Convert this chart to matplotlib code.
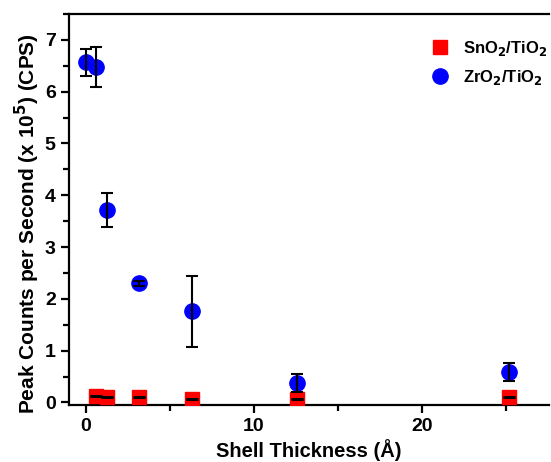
import matplotlib.pyplot as plt
from matplotlib.ticker import MultipleLocator

plt.rcParams['font.family'] = ['Liberation Sans', 'DejaVu Sans']
plt.rcParams['font.weight'] = 'bold'
plt.rcParams['mathtext.default'] = 'bf'

# shell thickness (Å)
zr_x = [0, 0.63, 1.26, 3.15, 6.3, 12.6, 25.2]
zr_y = [6.57, 6.48, 3.71, 2.30, 1.76, 0.37, 0.59]
zr_err = [0.26, 0.39, 0.33, 0.05, 0.69, 0.17, 0.17]

sn_x = [0.63, 1.26, 3.15, 6.3, 12.6, 25.2]
sn_y = [0.12, 0.10, 0.10, 0.07, 0.07, 0.10]
sn_err = [0.005, 0.005, 0.005, 0.005, 0.005, 0.005]

fig = plt.figure(figsize=(5.51, 4.62), dpi=100)
ax = fig.add_axes([0.125, 0.1234, 0.872, 0.8463])

ax.plot(sn_x, sn_y, 's', color='#ff0000', markersize=10,
        label='SnO$_2$/TiO$_2$', zorder=3)
ax.plot(zr_x, zr_y, 'o', color='#0000ff', markersize=11,
        label='ZrO$_2$/TiO$_2$', zorder=3)
# error bars drawn over the markers
ax.errorbar(sn_x, sn_y, yerr=sn_err, fmt='none', ecolor='black',
            elinewidth=1.5, capsize=4, capthick=1.8, zorder=4)
ax.errorbar(zr_x, zr_y, yerr=zr_err, fmt='none', ecolor='black',
            elinewidth=1.5, capsize=4, capthick=1.5, zorder=4)

ax.set_xlim(-1, 27.6)
ax.set_ylim(-0.05, 7.5)
ax.xaxis.set_major_locator(MultipleLocator(10))
ax.xaxis.set_minor_locator(MultipleLocator(5))
ax.yaxis.set_major_locator(MultipleLocator(1))
ax.yaxis.set_minor_locator(MultipleLocator(0.5))

ax.spines['right'].set_visible(False)
for s in ['left', 'bottom', 'top']:
    ax.spines[s].set_linewidth(1.6)
ax.tick_params(which='major', direction='out', length=6, width=1.6, labelsize=14)
ax.tick_params(which='minor', direction='out', length=4, width=1.6)
ax.tick_params(top=False, right=False)

ax.set_xlabel('Shell Thickness (Å)', fontsize=14.5, fontweight='bold', labelpad=3)
ax.set_ylabel('Peak Counts per Second (x 10$^{5}$) (CPS)', fontsize=15,
              fontweight='bold')
ax.yaxis.set_label_coords(-0.056, 0.465)

ax.legend(loc='upper right', frameon=False, fontsize=12,
          handletextpad=0.4, borderaxespad=0.3, labelspacing=0.6,
          bbox_to_anchor=(1.02, 0.967))

fig.savefig('out.png', dpi=100)
